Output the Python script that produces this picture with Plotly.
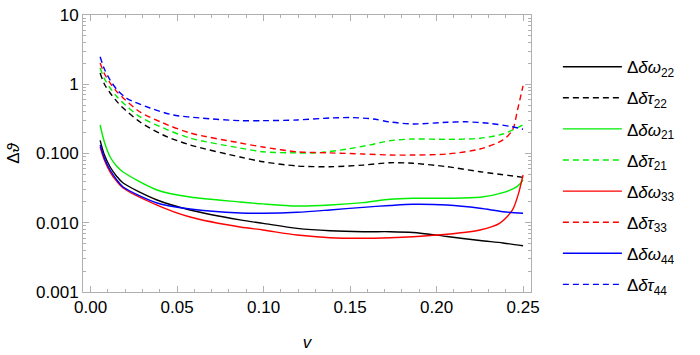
import plotly.graph_objects as go

# ---------------- data ----------------
v_black_dash = [0.0055, 0.008, 0.0113, 0.015, 0.0188, 0.0286, 0.0419, 0.0575, 0.0864, 0.0997, 0.1194, 0.1384, 0.1575, 0.1731, 0.1864, 0.2061, 0.2251, 0.25]
d_tau22 = [1.45, 1.0, 0.748, 0.57, 0.454, 0.285, 0.185, 0.133, 0.089, 0.076, 0.066, 0.0645, 0.068, 0.0736, 0.0722, 0.0645, 0.0546, 0.0453]

v_black = [0.0055, 0.008, 0.0113, 0.015, 0.0188, 0.0384, 0.0575, 0.0864, 0.0997, 0.1194, 0.1384, 0.1575, 0.1731, 0.1864, 0.2061, 0.2251, 0.2384, 0.25]
d_omega22 = [0.155, 0.095, 0.0638, 0.047, 0.0375, 0.0213, 0.0153, 0.011, 0.0098, 0.0083, 0.00767, 0.00743, 0.00743, 0.00723, 0.00633, 0.00554, 0.0051, 0.00466]

v_green = [0.0055, 0.008, 0.0113, 0.015, 0.0188, 0.0384, 0.0575, 0.0864, 0.0997, 0.1194, 0.1384, 0.1575, 0.1731, 0.1864, 0.2061, 0.2251, 0.2384, 0.2465, 0.25]
d_omega21 = [0.258, 0.145, 0.089, 0.066, 0.054, 0.0297, 0.0235, 0.01995, 0.0187, 0.01745, 0.018, 0.0195, 0.0218, 0.02255, 0.02255, 0.0233, 0.0272, 0.0332, 0.0414]

v_green_dash = [0.0055, 0.008, 0.0113, 0.015, 0.0188, 0.0286, 0.0419, 0.0575, 0.0864, 0.0997, 0.1194, 0.1327, 0.1483, 0.1616, 0.1731, 0.1864, 0.2061, 0.2251, 0.2384, 0.25]
d_tau21 = [1.72, 1.2, 0.883, 0.67, 0.536, 0.337, 0.234, 0.167, 0.12, 0.106, 0.102, 0.103, 0.116, 0.133, 0.153, 0.162, 0.16, 0.166, 0.191, 0.26]

v_red = [0.0055, 0.008, 0.0113, 0.015, 0.0188, 0.0384, 0.0575, 0.0864, 0.0997, 0.1194, 0.1384, 0.1575, 0.1731, 0.1864, 0.2061, 0.2251, 0.2364, 0.2439, 0.2474, 0.25]
d_omega33 = [0.124, 0.08, 0.054, 0.04, 0.0318, 0.018, 0.0121, 0.00868, 0.00786, 0.00665, 0.00608, 0.00597, 0.00608, 0.00629, 0.00681, 0.00786, 0.0098, 0.0153, 0.0266, 0.0489]

v_red_dash = [0.0055, 0.008, 0.0113, 0.015, 0.0188, 0.0286, 0.0419, 0.0575, 0.0864, 0.0997, 0.1194, 0.1384, 0.1575, 0.1731, 0.1864, 0.2061, 0.2251, 0.2384, 0.2439, 0.2468, 0.25]
d_tau33 = [2.03, 1.42, 1.04, 0.79, 0.633, 0.397, 0.276, 0.198, 0.142, 0.124, 0.106, 0.102, 0.0984, 0.0951, 0.0951, 0.0984, 0.116, 0.157, 0.218, 0.425, 0.95]

v_blue = [0.0055, 0.008, 0.0113, 0.015, 0.0188, 0.0384, 0.0575, 0.0864, 0.0997, 0.1194, 0.1384, 0.1575, 0.1731, 0.1864, 0.2061, 0.2251, 0.2384, 0.25]
d_omega44 = [0.133, 0.085, 0.0578, 0.042, 0.0328, 0.0193, 0.0158, 0.01383, 0.0137, 0.01416, 0.0153, 0.0167, 0.01775, 0.01846, 0.018, 0.01617, 0.01444, 0.01369]

v_blue_dash = [0.0055, 0.008, 0.0113, 0.015, 0.0209, 0.0344, 0.0477, 0.0633, 0.0864, 0.0997, 0.1194, 0.1384, 0.1517, 0.1633, 0.1731, 0.1864, 0.2061, 0.2166, 0.2301, 0.2434, 0.25]
d_tau44 = [2.5, 1.65, 1.15, 0.85, 0.627, 0.454, 0.36, 0.326, 0.298, 0.298, 0.305, 0.326, 0.33, 0.315, 0.285, 0.267, 0.282, 0.287, 0.273, 0.244, 0.224]

y_tickvals = [0.001, 0.01, 0.1, 1, 10]
y_ticktext = ["0.001", "0.010", "0.100", "1", "10"]
x_tickvals = [0.0, 0.05, 0.10, 0.15, 0.20, 0.25]
x_ticktext = ["0.00", "0.05", "0.10", "0.15", "0.20", "0.25"]

series = [
    ("Δ<i>δω</i><sub>22</sub>", v_black, d_omega22, "#000000", "solid"),
    ("Δ<i>δτ</i><sub>22</sub>", v_black_dash, d_tau22, "#000000", "dash"),
    ("Δ<i>δω</i><sub>21</sub>", v_green, d_omega21, "#00ee00", "solid"),
    ("Δ<i>δτ</i><sub>21</sub>", v_green_dash, d_tau21, "#00ee00", "dash"),
    ("Δ<i>δω</i><sub>33</sub>", v_red, d_omega33, "#ff0000", "solid"),
    ("Δ<i>δτ</i><sub>33</sub>", v_red_dash, d_tau33, "#ff0000", "dash"),
    ("Δ<i>δω</i><sub>44</sub>", v_blue, d_omega44, "#0000ff", "solid"),
    ("Δ<i>δτ</i><sub>44</sub>", v_blue_dash, d_tau44, "#0000ff", "dash"),
]

FONT = "Liberation Sans, Arial, sans-serif"

fig = go.Figure()
for i, (name, xs, ys, color, dash) in enumerate(series):
    fig.add_trace(go.Scatter(
        x=xs, y=ys, mode="lines", name=name, legendgroup=f"g{i}",
        line=dict(color=color, width=1.4, shape="spline", smoothing=0.8,
                  dash=("6px,4px" if dash == "dash" else "solid")),
    ))

axis_common = dict(
    showline=True, linecolor="#b0b0b0", linewidth=1, mirror="allticks",
    ticks="inside", tickcolor="#b0b0b0", ticklen=6, tickwidth=1,
    showgrid=False, zeroline=False,
    tickfont=dict(family=FONT, size=17, color="#000000"),
)

fig.update_xaxes(
    range=[-0.0044, 0.2546], tickmode="array", tickvals=x_tickvals, ticktext=x_ticktext,
    minor=dict(dtick=0.01, ticks="inside", ticklen=3, tickcolor="#b0b0b0"),
    title=dict(text="<i>v</i>", font=dict(family=FONT, size=17, color="#000"), standoff=19),
    **axis_common,
)
fig.update_yaxes(
    type="log", range=[-3, 1], tickmode="array", tickvals=y_tickvals, ticktext=y_ticktext,
    minor=dict(dtick="D1", ticks="inside", ticklen=3, tickcolor="#b0b0b0"),
    title=dict(text="Δ<i>ϑ</i>", font=dict(family=FONT, size=17, color="#000"), standoff=12),
    **axis_common,
)

fig.update_layout(
    width=700, height=355,
    margin=dict(l=83, r=169, t=15, b=63, autoexpand=False),
    paper_bgcolor="white", plot_bgcolor="white",
    showlegend=True,
    legend=dict(
        x=1.06, xanchor="left", y=0.42, yanchor="middle",
        font=dict(family=FONT, size=17, color="#000"),
        itemwidth=59, tracegroupgap=6, bgcolor="rgba(0,0,0,0)",
    ),
)

fig.write_html("out.html")
